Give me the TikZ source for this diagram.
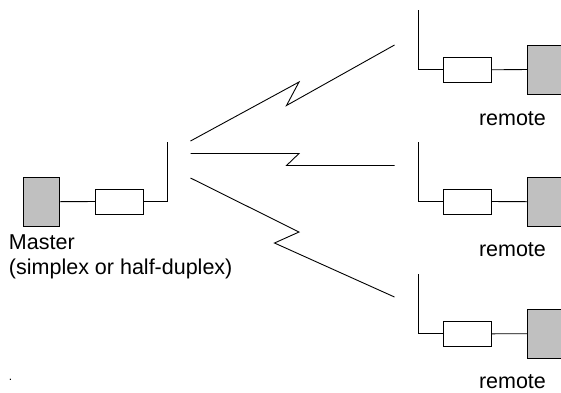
\documentclass[tikz,border=0pt]{standalone}
\usepackage{fontspec}
\setmainfont{Liberation Sans}
\definecolor{boxgray}{HTML}{C0C0C0}
\tikzset{
  unit/.style={draw=black,fill=boxgray,line width=0.9pt,inner sep=0pt,outer sep=0pt},
  filterbox/.style={draw=black,fill=white,line width=0.9pt,inner sep=0pt,outer sep=0pt,minimum width=48pt,minimum height=25pt},
  wire/.style={line width=0.9pt,draw=black,line join=miter},
  lbl/.style={inner sep=0pt,outer sep=0pt,anchor=base west,font=\fontsize{21.5}{25}\selectfont,text=black}
}
\begin{document}
\begin{tikzpicture}[x=1pt,y=-1pt]
\path[use as bounding box,clip] (0,0) rectangle (561,392);
% master
\node[unit,minimum width=36pt,minimum height=48.5pt] (mu) at (41.5,201.7) {};
\node[filterbox] (mf) at (119,201.5) {};
\coordinate (mat) at (167,141.5);
\draw[wire] (mu.east) -- (mf.west);
\draw[wire] (mf.east) -| (mat);
% remotes
\node[unit,minimum width=60pt,minimum height=49pt,anchor=west] (ru1) at (527,69.5) {};
\node[filterbox] (rf1) at (467,69.8) {};
\coordinate (rat1) at (418,10);
\draw[wire] (ru1.west) -- (rf1.east);
\draw[wire] (rf1.west) -| (rat1);
\node[unit,minimum width=60pt,minimum height=48.5pt,anchor=west] (ru2) at (527,201.7) {};
\node[filterbox] (rf2) at (467,201.5) {};
\coordinate (rat2) at (418,141.5);
\draw[wire] (ru2.west) -- (rf2.east);
\draw[wire] (rf2.west) -| (rat2);
\node[unit,minimum width=60pt,minimum height=48.5pt,anchor=west] (ru3) at (527,333.7) {};
\node[filterbox] (rf3) at (467,333.8) {};
\coordinate (rat3) at (418,274);
\draw[wire] (ru3.west) -- (rf3.east);
\draw[wire] (rf3.west) -| (rat3);
% radio links
\coordinate (l1s) at (190.5,141);
\coordinate (l1e) at (394.5,45);
\coordinate (l2s) at (190.5,153.5);
\coordinate (l2e) at (394.5,165.5);
\coordinate (l3s) at (190.5,178);
\coordinate (l3e) at (394.5,297);
\draw[wire] (l1s) -- (299,82) -- (286.5,105.5) -- (l1e);
\draw[wire] (l2s) -- (299,153.5) -- (286.5,165.5) -- (l2e);
\draw[wire] (l3s) -- (299,232) -- (274.5,243) -- (l3e);
% labels
\node[lbl] (mt1) at (9,249.5) {Master};
\node[lbl] (mt2) at (9,274) {(simplex or half-duplex)};
\node[lbl] (rt1) at (479,125) {remote};
\node[lbl] (rt2) at (479,256) {remote};
\node[lbl] (rt3) at (479,388) {remote};
\node[lbl,font=\fontsize{12}{14}\selectfont] (dot) at (9,380.5) {.};
\end{tikzpicture}
\end{document}
